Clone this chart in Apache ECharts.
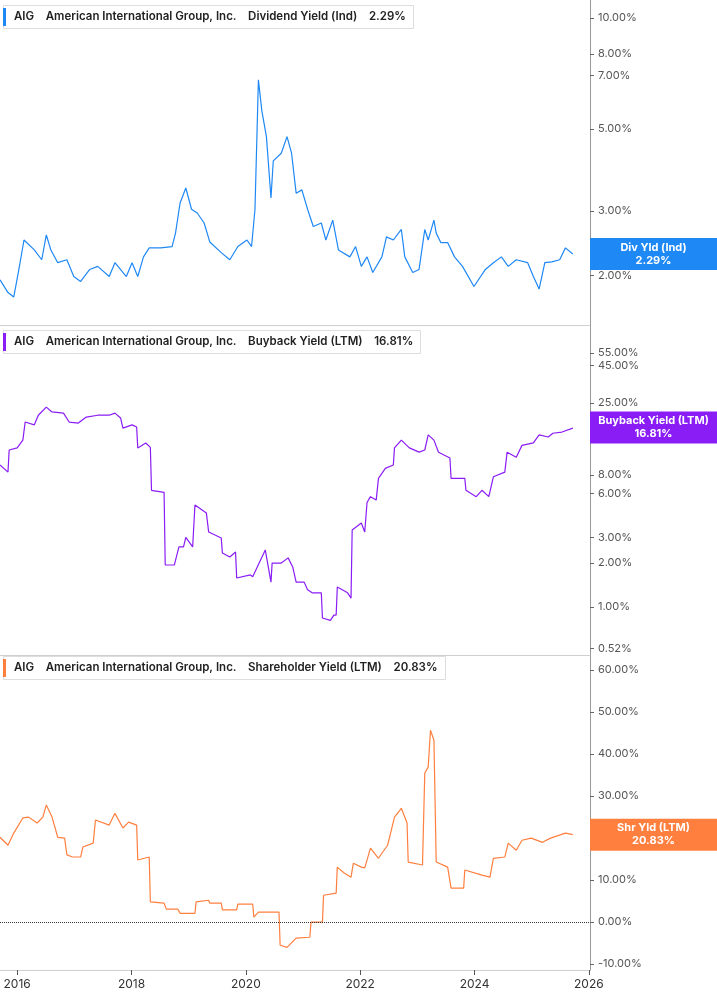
<!DOCTYPE html>
<html>
<head>
<meta charset="utf-8">
<script src="https://cdn.jsdelivr.net/npm/echarts@6/dist/echarts.min.js"></script>
<style>html,body{margin:0;padding:0;background:#fff}#main{width:717px;height:1005px}</style>
</head>
<body>
<div id="main"></div>
<script>
// decimal years on x, yields in %
var divYears = [2015.70,2015.84,2015.94,2016.02,2016.12,2016.30,2016.43,2016.51,2016.59,2016.71,2016.87,2016.99,2017.11,2017.27,2017.41,2017.61,2017.71,2017.91,2018.01,2018.11,2018.21,2018.31,2018.51,2018.71,2018.77,2018.85,2018.95,2019.05,2019.15,2019.27,2019.37,2019.57,2019.72,2019.86,2020.02,2020.10,2020.16,2020.22,2020.28,2020.36,2020.44,2020.48,2020.62,2020.72,2020.80,2020.88,2020.98,2021.08,2021.18,2021.32,2021.40,2021.52,2021.62,2021.82,2021.92,2022.02,2022.12,2022.22,2022.38,2022.46,2022.58,2022.72,2022.78,2022.92,2023.03,2023.13,2023.19,2023.29,2023.33,2023.41,2023.53,2023.65,2023.79,2023.99,2024.19,2024.33,2024.47,2024.59,2024.73,2024.93,2025.03,2025.13,2025.23,2025.35,2025.49,2025.59,2025.72];
var divValues = [1.95,1.80,1.75,2.04,2.50,2.35,2.21,2.58,2.35,2.17,2.21,1.99,1.93,2.08,2.12,1.99,2.17,1.99,2.17,1.99,2.25,2.38,2.38,2.40,2.61,3.15,3.46,3.03,2.96,2.78,2.47,2.31,2.21,2.40,2.50,2.40,3.03,6.80,5.60,4.77,3.25,4.10,4.30,4.77,4.30,3.35,3.42,3.03,2.72,2.78,2.50,2.83,2.35,2.25,2.40,2.12,2.25,2.04,2.25,2.55,2.50,2.67,2.25,2.04,2.08,2.67,2.50,2.83,2.61,2.46,2.46,2.25,2.12,1.87,2.08,2.17,2.25,2.12,2.21,2.17,1.99,1.84,2.17,2.18,2.21,2.38,2.29];

var bbYears = [2015.70,2015.84,2015.86,2016.00,2016.10,2016.14,2016.30,2016.37,2016.51,2016.61,2016.81,2016.91,2017.07,2017.21,2017.41,2017.61,2017.71,2017.81,2017.85,2018.01,2018.09,2018.11,2018.25,2018.33,2018.35,2018.57,2018.59,2018.75,2018.83,2018.91,2018.95,2019.07,2019.11,2019.31,2019.35,2019.57,2019.59,2019.72,2019.82,2019.84,2020.08,2020.12,2020.34,2020.44,2020.46,2020.62,2020.74,2020.82,2020.88,2021.02,2021.08,2021.16,2021.32,2021.34,2021.48,2021.54,2021.58,2021.60,2021.78,2021.84,2021.86,2022.02,2022.08,2022.12,2022.18,2022.28,2022.32,2022.44,2022.58,2022.60,2022.72,2022.86,2023.03,2023.13,2023.19,2023.29,2023.37,2023.57,2023.59,2023.73,2023.83,2023.85,2024.03,2024.13,2024.25,2024.33,2024.53,2024.57,2024.73,2024.83,2025.03,2025.13,2025.29,2025.37,2025.53,2025.72];
var bbValues = [9.4,8.4,11.9,12.3,13.9,18.5,17.7,20.6,23.4,21.7,21.3,18.5,18.2,20.0,20.6,20.6,21.3,19.7,16.8,17.7,17.1,12.3,13.3,12.4,6.3,6.1,1.94,1.94,2.58,2.58,3.0,2.58,5.0,4.4,3.26,2.97,2.34,2.2,2.38,1.58,1.66,1.61,2.46,1.48,2.0,2.0,2.17,1.88,1.48,1.48,1.31,1.25,1.25,0.84,0.81,0.88,0.88,1.37,1.25,1.15,3.37,3.76,3.26,5.2,5.7,5.4,7.6,8.9,9.4,12.3,13.9,12.3,11.5,11.9,15.1,13.9,11.5,10.5,7.6,7.6,7.6,6.3,5.7,6.3,5.7,7.8,8.4,11.5,10.6,12.8,13.3,15.1,14.6,15.5,15.8,16.81];

var shrYears = [2015.70,2015.84,2015.94,2016.10,2016.20,2016.35,2016.45,2016.51,2016.61,2016.71,2016.83,2016.87,2016.97,2017.11,2017.15,2017.33,2017.37,2017.61,2017.71,2017.85,2017.95,2018.09,2018.11,2018.31,2018.33,2018.57,2018.61,2018.81,2018.85,2019.11,2019.13,2019.35,2019.37,2019.57,2019.59,2019.84,2019.86,2020.12,2020.14,2020.22,2020.36,2020.58,2020.60,2020.72,2020.88,2021.12,2021.14,2021.34,2021.36,2021.58,2021.60,2021.72,2021.84,2021.88,2022.02,2022.08,2022.18,2022.32,2022.38,2022.48,2022.60,2022.72,2022.82,2022.84,2023.09,2023.13,2023.19,2023.23,2023.29,2023.33,2023.53,2023.59,2023.81,2023.83,2024.13,2024.27,2024.33,2024.53,2024.59,2024.73,2024.83,2024.99,2025.19,2025.33,2025.59,2025.72];
var shrValues = [20.2,18.3,21.2,24.8,25.0,23.6,25.0,27.9,25.0,20.2,20.0,16.0,15.5,15.5,17.9,18.8,24.3,23.1,25.9,22.4,23.8,23.1,14.8,15.5,4.8,4.5,3.1,3.1,2.1,2.1,4.8,5.2,4.5,4.5,2.9,2.9,4.3,4.3,1.2,2.4,2.4,2.4,-5.5,-6.0,-3.8,-3.6,0,0,6.4,6.9,13.1,11.7,10.7,14.0,13.1,12.9,17.6,15.2,16.4,18.3,25.0,27.1,23.6,14.3,13.6,35.5,36.9,45.7,43.3,14.3,13.1,8.1,8.1,12.4,11.2,10.7,15.2,15.5,18.8,17.1,19.5,20.0,19.0,20.0,21.2,20.83];

var divTicks = [2, 3, 5, 7, 8, 10];
var bbTicks = [0.52, 1, 2, 3, 6, 8, 25, 45, 55];
var shrTicks = [-10, 0, 10, 20, 30, 40, 50, 60];
var yearTicks = [2016, 2018, 2020, 2022, 2024, 2026];

var divLast = 2.29, bbLast = 16.81, shrLast = 20.83;

var lg = Math.log10;
function pairs(xs, ys, f) { return xs.map(function (x, i) { return [x, f ? f(ys[i]) : ys[i]]; }); }

var grids = [
  { left: 0, right: 127, top: 0, height: 325 },
  { left: 0, right: 127, top: 325, height: 330 },
  { left: 0, right: 127, top: 655, height: 315 }
];
var fontFam = 'Inter, Roboto, sans-serif';

var xAxes = [0, 1, 2].map(function (i) {
  return {
    type: 'value', gridIndex: i, min: 2015.70, max: 2026.02,
    splitLine: { show: false },
    axisLine: { show: true, onZero: false, lineStyle: { color: '#cfcfcf' } },
    axisTick: { show: i === 2, customValues: yearTicks, length: 5, lineStyle: { color: '#555' } },
    axisLabel: { show: i === 2, customValues: yearTicks, color: '#333', fontSize: 12, fontFamily: fontFam, formatter: function (v) { return String(v); } }
  };
});

function yAx(i, min, max, ticks, isLog) {
  var cv = isLog ? ticks.map(lg) : ticks;
  return {
    type: 'value', gridIndex: i, position: 'right', min: min, max: max,
    splitLine: { show: false },
    axisLine: { show: true, lineStyle: { color: '#999' } },
    axisTick: { show: true, customValues: cv, length: 4, lineStyle: { color: '#666' } },
    axisLabel: {
      customValues: cv, color: '#555', fontSize: 11, fontFamily: fontFam, margin: 8,
      formatter: function (v) { return (isLog ? Math.pow(10, v) : v).toFixed(2) + '%'; }
    }
  };
}

function tag(val, color, name, txt) {
  return {
    silent: true, symbol: 'none',
    lineStyle: { color: 'transparent' },
    label: {
      position: 'end', distance: 0, formatter: '{a|' + name + '}\n{a|' + txt + '}',
      backgroundColor: color, align: 'left', padding: [3, 0],
      rich: { a: { color: '#fff', fontWeight: 'bold', fontSize: 11, fontFamily: fontFam, width: 127, align: 'center', lineHeight: 13 } }
    },
    data: [{ yAxis: val }]
  };
}

function title(top, color, label) {
  return {
    left: 3, top: top,
    text: '{bar| }{t|AIG    American International Group, Inc.    ' + label + '}',
    backgroundColor: '#fff', borderColor: '#ddd', borderWidth: 1, padding: [3, 8, 3, 0],
    textStyle: {
      rich: {
        bar: { backgroundColor: color, width: 3, height: 18 },
        t: { fontSize: 11.5, fontWeight: 600, color: '#222', fontFamily: fontFam, padding: [0, 0, 0, 8] }
      }
    }
  };
}

var option = {
  animation: false,
  title: [
    title(5, '#1e88f5', 'Dividend Yield (Ind)    2.29%'),
    title(330, '#8a1cf5', 'Buyback Yield (LTM)    16.81%'),
    title(656, '#ff7f3f', 'Shareholder Yield (LTM)    20.83%')
  ],
  grid: grids,
  xAxis: xAxes,
  yAxis: [
    yAx(0, lg(1.47), lg(11.2), divTicks, true),
    yAx(1, -0.329, 1.932, bbTicks, true),
    yAx(2, -11.4, 63.6, shrTicks, false)
  ],
  series: [
    {
      type: 'line', xAxisIndex: 0, yAxisIndex: 0, showSymbol: false,
      lineStyle: { color: '#1e88f5', width: 1.2 },
      data: pairs(divYears, divValues, lg),
      markLine: tag(lg(divLast), '#1e88f5', 'Div Yld (Ind)', divLast.toFixed(2) + '%')
    },
    {
      type: 'line', xAxisIndex: 1, yAxisIndex: 1, showSymbol: false,
      lineStyle: { color: '#8a1cf5', width: 1.2 },
      data: pairs(bbYears, bbValues, lg),
      markLine: tag(lg(bbLast), '#8a1cf5', 'Buyback Yield (LTM)', bbLast.toFixed(2) + '%')
    },
    {
      type: 'line', xAxisIndex: 2, yAxisIndex: 2, showSymbol: false,
      lineStyle: { color: '#ff7f3f', width: 1.2 },
      data: pairs(shrYears, shrValues),
      markLine: tag(shrLast, '#ff7f3f', 'Shr Yld (LTM)', shrLast.toFixed(2) + '%')
    },
    {
      type: 'line', xAxisIndex: 2, yAxisIndex: 2, data: [],
      markLine: {
        silent: true, symbol: 'none', label: { show: false },
        lineStyle: { color: '#333', type: 'dotted', width: 1 },
        data: [{ yAxis: 0 }]
      }
    }
  ]
};
var myChart = echarts.init(document.getElementById('main'));
myChart.setOption(option);
</script>
</body>
</html>
